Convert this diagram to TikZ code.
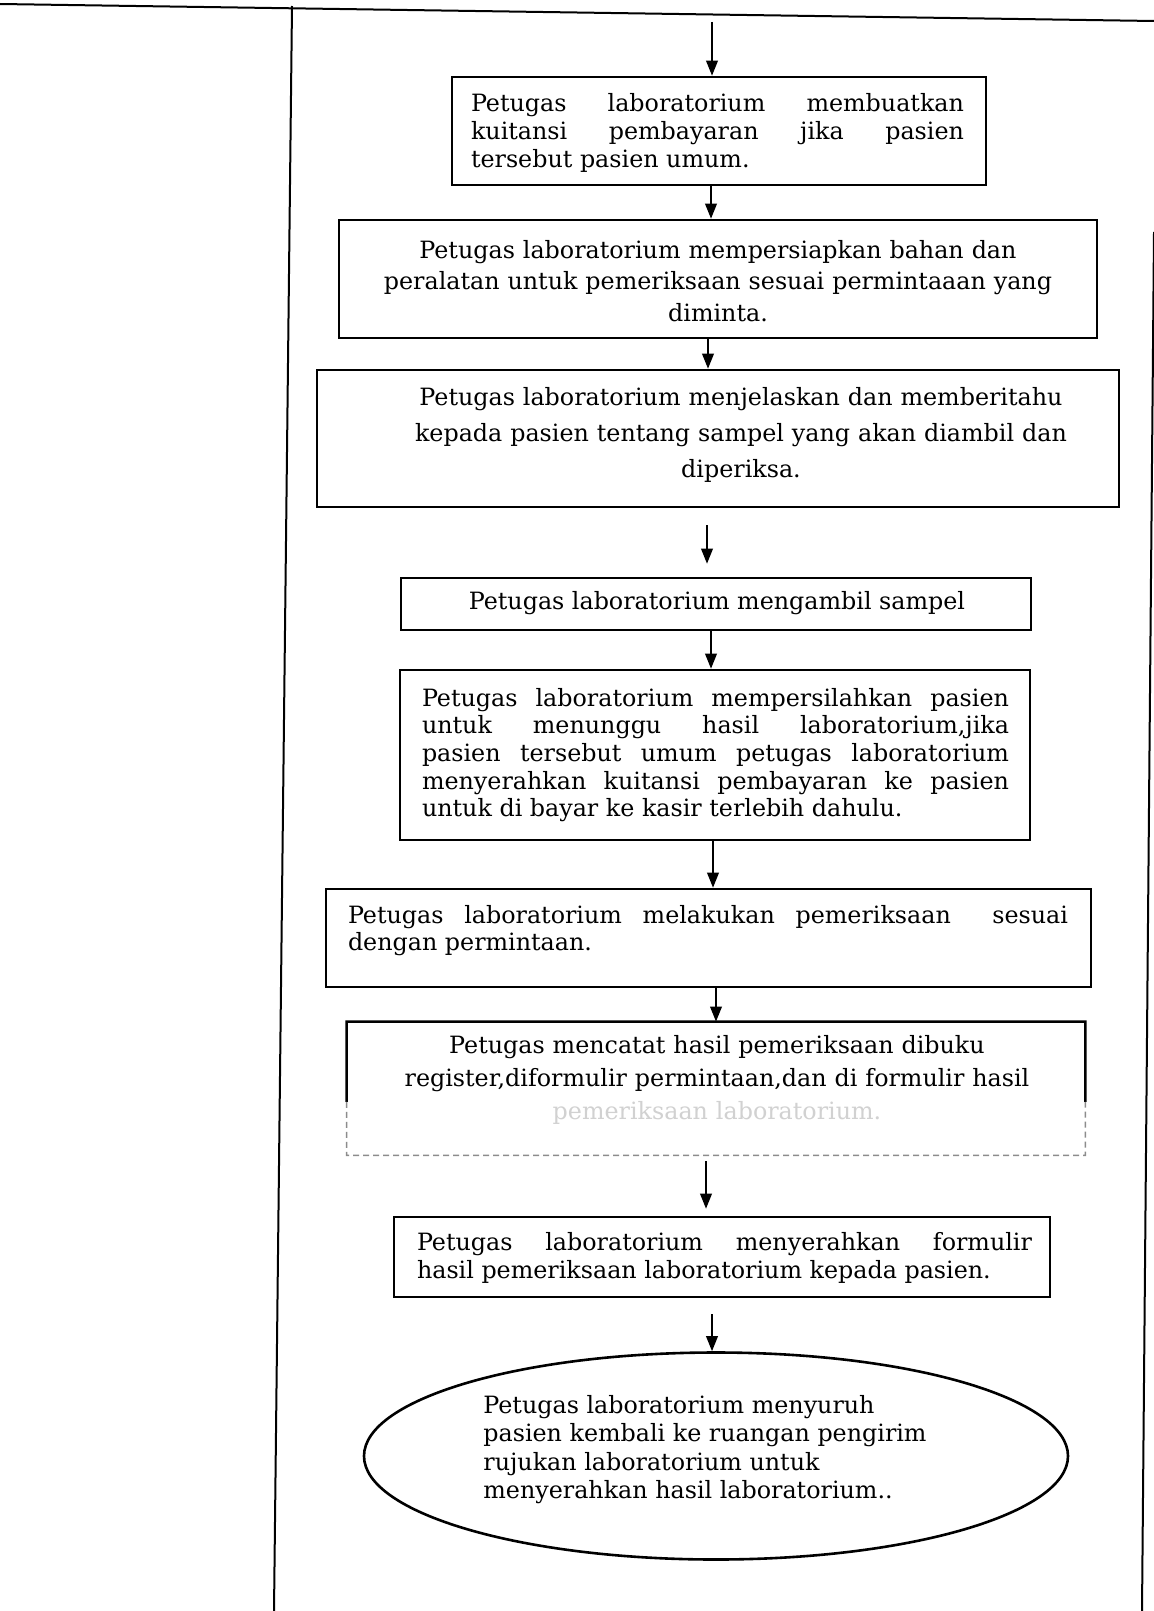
\documentclass[tikz,border=0pt]{standalone}
\usepackage{fontspec}
\setmainfont{DejaVu Serif}
\usetikzlibrary{arrows.meta,calc,shapes.geometric}
\begin{document}
\begin{tikzpicture}[x=0.5pt,y=-0.5pt,
  boxline/.style={line width=1.3pt},
  box/.style={draw, boxline, inner sep=0pt},
  faint/.style={draw=black!45, line width=0.7pt, dash pattern=on 3pt off 2pt},
  frame/.style={line width=1pt},
  arr/.style={-{Triangle[length=7.5pt,width=5.8pt]}, line width=0.9pt},
  txt/.style={inner sep=0pt, font=\fontsize{11.9pt}{13.85pt}\selectfont}]
\useasboundingbox (0,0) rectangle (1154,1611);
\fill[white] (0,0) rectangle (1154,1611);
% page frame
\draw[frame] (0,4) -- (1154,21);
\draw[frame] (292,6) -- (274,1611);
\draw[frame] (1154,232) -- (1142,1611);

% boxes
\node[box, minimum width=267pt, minimum height=54pt] (b1) at (719,131) {};
\node[box, minimum width=379pt, minimum height=59pt] (b2) at (718,279) {};
\node[box, minimum width=401pt, minimum height=68.5pt] (b3) at (718,438.5) {};
\node[box, minimum width=315pt, minimum height=26pt] (b4) at (716,604) {};
\node[box, minimum width=315pt, minimum height=85pt] (b5) at (715,755) {};
\node[box, minimum width=382.5pt, minimum height=49pt] (b6) at (708.5,938) {};
\node[inner sep=0pt, minimum width=369pt, minimum height=66.5pt] (b7) at (716,1088.5) {};
\draw[boxline] ($(b7.north west)!0.6!(b7.south west)$) -- (b7.north west) -- (b7.north east) -- ($(b7.north east)!0.6!(b7.south east)$);
\draw[faint] ($(b7.north west)!0.6!(b7.south west)$) -- (b7.south west) -- (b7.south east) -- ($(b7.north east)!0.6!(b7.south east)$);
\node[box, minimum width=328pt, minimum height=40pt] (b8) at (722,1257) {};
\node[draw, ellipse, boxline, inner sep=0pt, minimum width=352pt, minimum height=103.5pt] (e9) at (716,1456) {};

% texts
\node[txt, text width=246.5pt, align=justify] (t1) at (717.5,133)
  {Petugas laboratorium membuatkan\linebreak kuitansi pembayaran jika pasien\linebreak tersebut pasien umum.};
\node[txt, text width=370pt, align=center, font=\fontsize{11.9pt}{15.75pt}\selectfont] (t2) at (718,281)
  {Petugas laboratorium mempersiapkan bahan dan\\ peralatan untuk pemeriksaan sesuai permintaaan yang\\ diminta.};
\node[txt, text width=370pt, align=center, font=\fontsize{11.9pt}{18pt}\selectfont] (t3) at (741,435)
  {Petugas laboratorium menjelaskan dan memberitahu\\ kepada pasien tentang sampel yang akan diambil dan\\ diperiksa.};
\node[txt] (t4) at (717,603) {Petugas laboratorium mengambil sampel};
\node[txt, text width=293.5pt, align=justify] (t5) at (715.5,755)
  {Petugas laboratorium mempersilahkan pasien\linebreak untuk menunggu hasil laboratorium,jika\linebreak pasien tersebut umum petugas laboratorium\linebreak menyerahkan kuitansi pembayaran ke pasien\linebreak untuk di bayar ke kasir terlebih dahulu.};
\node[txt, text width=360pt, align=justify, font=\fontsize{11.9pt}{13.5pt}\selectfont] (t6) at (708,931)
  {Petugas laboratorium melakukan pemeriksaan \ sesuai\linebreak dengan permintaan.};
\node[txt, text width=370pt, align=center, font=\fontsize{11.9pt}{16.5pt}\selectfont] (t7) at (717,1080)
  {Petugas mencatat hasil pemeriksaan dibuku\\ register,diformulir permintaan,dan di formulir hasil\\ \textcolor{black!18}{pemeriksaan laboratorium.}};
\node[txt, text width=307.5pt, align=justify] (t8) at (724.5,1258)
  {Petugas laboratorium menyerahkan formulir\linebreak hasil pemeriksaan laboratorium kepada pasien.};
\node[txt, anchor=west, align=left, font=\fontsize{11.9pt}{14.15pt}\selectfont] (t9) at (483,1449.5)
  {Petugas laboratorium menyuruh\\ pasien kembali ke ruangan pengirim\\ rujukan laboratorium untuk\\ menyerahkan hasil laboratorium..};

% connectors
\coordinate (top) at (712,22);
\draw[arr] (top) -- (top |- b1.north);
\draw[arr] ([xshift=-4pt]b1.south) -- ([xshift=-4pt]b1.south |- b2.north);
\draw[arr] ([xshift=-5pt]b2.south) -- ([xshift=-5pt]b2.south |- b3.north);
\draw[arr] ([xshift=-5.5pt,yshift=-8.5pt]b3.south) -- ([xshift=-5.5pt,yshift=6.5pt]b3.south |- b4.north);
\draw[arr] ([xshift=-2.5pt]b4.south) -- ([xshift=-2.5pt]b4.south |- b5.north);
\draw[arr] ([xshift=-1pt]b5.south) -- ([xshift=-1pt]b5.south |- b6.north);
\draw[arr] ([xshift=3.75pt]b6.south) -- ([xshift=3.75pt]b6.south |- b7.north);
\draw[arr] ([xshift=-5pt,yshift=-3pt]b7.south) -- ([xshift=-5pt,yshift=3.5pt]b7.south |- b8.north);
\draw[arr] ([xshift=-5pt,yshift=-8pt]b8.south) -- ([xshift=-5pt]b8.south |- e9.north);
\end{tikzpicture}
\end{document}
